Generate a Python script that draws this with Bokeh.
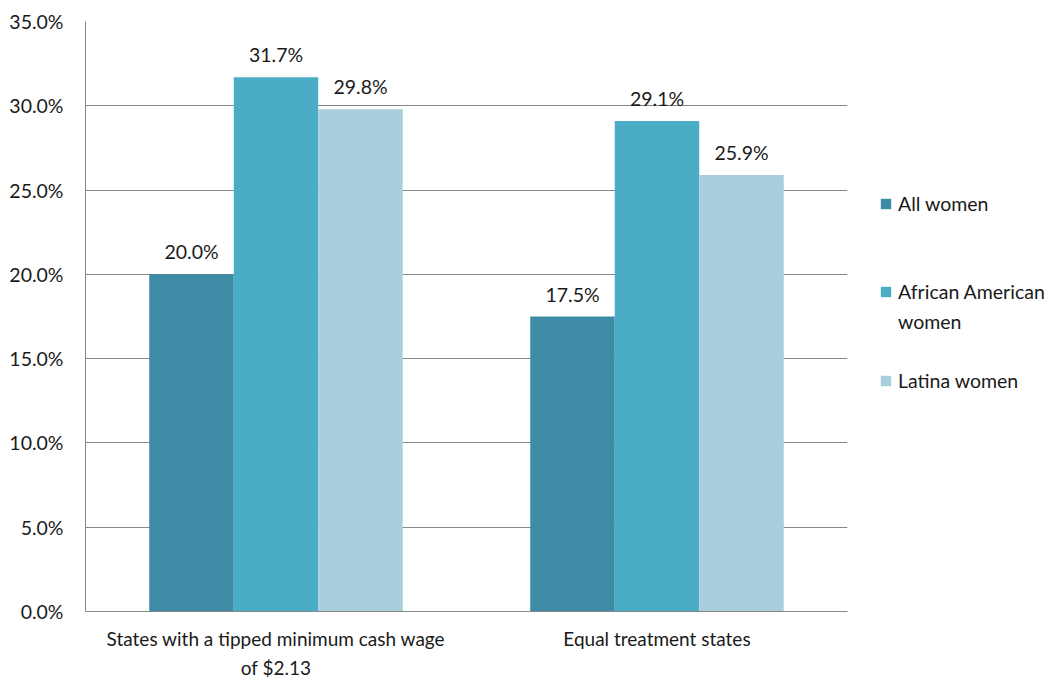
from bokeh.plotting import figure
from bokeh.models import (ColumnDataSource, FactorRange, Range1d, FixedTicker,
                          PrintfTickFormatter, Legend, LegendItem)
from bokeh.transform import dodge
from bokeh.embed import file_html
from bokeh.resources import INLINE
from bokeh.core.properties import value

categories = ["States with a tipped minimum cash wage\nof $2.13", "Equal treatment states"]
series_names = ["All women", "African American", "Latina women"]
series_name_continued = "women"
all_women = [20.0, 17.5]
african_american_women = [31.7, 29.1]
latina_women = [29.8, 25.9]
y_ticks = [0, 5, 10, 15, 20, 25, 30, 35]

colors = ["#3E8BA5", "#4BACC6", "#A9CEDC"]
FONT = "Lato"
FS = "19.5px"
TXT = "#1a1a1a"

src = ColumnDataSource(dict(cat=categories, a=all_women, b=african_american_women, c=latina_women,
                            la=["%.1f%%" % v for v in all_women],
                            lb=["%.1f%%" % v for v in african_american_women],
                            lc=["%.1f%%" % v for v in latina_women]))

p = figure(x_range=FactorRange(*categories, range_padding=0), y_range=Range1d(0, 35),
           frame_width=762, frame_height=590,
           min_border_left=85, min_border_top=21, min_border_bottom=66, min_border_right=206,
           output_backend="svg", toolbar_location=None)

w = 0.2218
renderers = []
for key, lab, off, col in [("a", "la", -w, colors[0]), ("b", "lb", 0.0, colors[1]), ("c", "lc", w, colors[2])]:
    r = p.vbar(x=dodge("cat", off, range=p.x_range), top=key, width=w, source=src,
               fill_color=col, line_color=None)
    renderers.append(r)
    p.text(x=dodge("cat", off, range=p.x_range), y=key, text=lab, source=src,
           text_align="center", text_baseline="bottom", y_offset=-11,
           text_font=value(FONT), text_font_size=FS, text_color=TXT)

# invisible renderer used for spacer / continuation rows of the legend
blank = p.vbar(x=[], top=[], width=w, fill_alpha=0, line_alpha=0)

p.outline_line_color = None
p.xgrid.grid_line_color = None
p.ygrid.grid_line_color = "#878787"
p.ygrid.grid_line_width = 1
p.yaxis.ticker = FixedTicker(ticks=y_ticks)
p.yaxis.formatter = PrintfTickFormatter(format="%.1f%%")
p.yaxis.axis_line_color = "#878787"
p.yaxis.major_tick_line_color = None
p.yaxis.minor_tick_line_color = None
p.yaxis.major_label_standoff = 16
p.yaxis.major_label_text_font = FONT
p.yaxis.major_label_text_font_size = FS
p.yaxis.major_label_text_color = TXT

p.xaxis.axis_line_color = "#878787"
p.xaxis.major_tick_line_color = None
p.xaxis.minor_tick_line_color = None
p.xaxis.major_label_standoff = 9
p.xaxis.major_label_text_font = FONT
p.xaxis.major_label_text_font_size = "19px"
p.xaxis.major_label_text_line_height = 1.27
p.xaxis.major_label_text_color = TXT

items = [
    LegendItem(label=series_names[0], renderers=[renderers[0]]),
    LegendItem(label=" ", renderers=[blank]),
    LegendItem(label=" ", renderers=[blank]),
    LegendItem(label=series_names[1], renderers=[renderers[1]]),
    LegendItem(label=series_name_continued, renderers=[blank]),
    LegendItem(label=" ", renderers=[blank]),
    LegendItem(label=series_names[2], renderers=[renderers[2]]),
]
legend = Legend(items=items, location=(32, 219), orientation="vertical",
                glyph_width=13, glyph_height=13, label_height=22, spacing=7,
                padding=0, margin=0,
                label_text_font=FONT, label_text_font_size=FS, label_text_color=TXT,
                label_standoff=6, border_line_color=None, background_fill_alpha=0)
p.add_layout(legend, "right")

open("out.html", "w").write(file_html(p, INLINE))
